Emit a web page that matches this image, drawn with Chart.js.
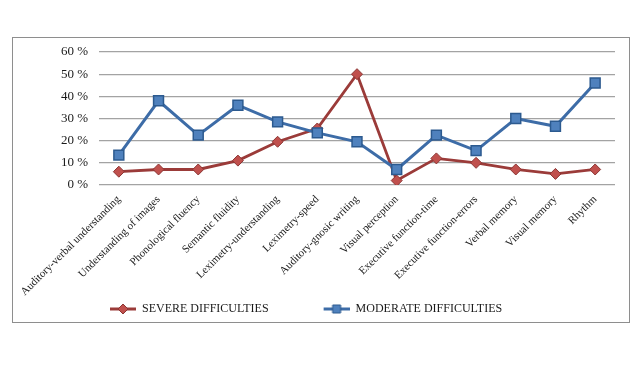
<!DOCTYPE html>
<html>
<head>
<meta charset="utf-8">
<script src="https://cdn.jsdelivr.net/npm/chart.js@4.4.0/dist/chart.umd.min.js"></script>
<style>
  body { margin: 0; background: #fff; }
  #box {
    position: absolute; left: 12px; top: 37px;
    width: 618px; height: 286px;
    box-sizing: border-box; border: 1px solid #8e8e8e;
  }
  #chart { display: block; }
</style>
</head>
<body>
<div id="box"><canvas id="chart" width="616" height="284"></canvas></div>
<script>
  // values, in %
  const categories = [
    'Auditory-verbal understanding', 'Understanding of images', 'Phonological fluency',
    'Semantic fluidity', 'Leximetry-understanding', 'Leximetry-speed',
    'Auditory-gnosic writing', 'Visual perception', 'Executive function-time',
    'Executive function-errors', 'Verbal memory', 'Visual memory', 'Rhythm'
  ];
  const severe = [6, 7, 7, 11, 19.5, 25.5, 50, 2, 12, 10, 7, 5, 7];
  const moderate = [13.5, 38, 22.5, 36, 28.5, 23.5, 19.5, 7, 22.5, 15.5, 30, 26.5, 46];
  const seriesNames = ['SEVERE DIFFICULTIES', 'MODERATE DIFFICULTIES'];
  const yTicks = [0, 10, 20, 30, 40, 50, 60];

  const FONT = "'Liberation Serif', 'Times New Roman', serif";

  // little legend picture: empty margin on the left, then line with marker
  function legendIcon(lineColor, fill, border, shape) {
    const c = document.createElement('canvas');
    c.width = 75; c.height = 12;
    const g = c.getContext('2d');
    g.strokeStyle = lineColor;
    g.lineWidth = 3;
    g.beginPath(); g.moveTo(49, 6); g.lineTo(75, 6); g.stroke();
    g.fillStyle = fill; g.strokeStyle = border; g.lineWidth = 1;
    g.beginPath();
    if (shape === 'diamond') {
      g.moveTo(62, 1); g.lineTo(67, 6); g.lineTo(62, 11); g.lineTo(57, 6); g.closePath();
    } else {
      g.rect(58, 2, 8, 8);
    }
    g.fill(); g.stroke();
    return c;
  }
  const icons = [
    legendIcon('#9b3b39', '#c0504d', '#8b3533', 'diamond'),
    legendIcon('#3d6ca7', '#4f81bd', '#2c5a8f', 'square')
  ];

  // keep the plot box where the picture has it
  function noPadding(s) {
    s.paddingLeft = 0; s.paddingRight = 0; s.paddingTop = 0; s.paddingBottom = 0;
  }

  new Chart(document.getElementById('chart'), {
    type: 'line',
    data: {
      labels: categories,
      datasets: [
        {
          label: seriesNames[0],
          data: severe,
          order: 1,
          borderColor: '#9b3b39',
          borderWidth: 2.8,
          pointStyle: 'rectRot',
          pointRadius: 5.5,
          pointBackgroundColor: '#c0504d',
          pointBorderColor: '#8b3533',
          pointBorderWidth: 1,
          tension: 0
        },
        {
          label: seriesNames[1],
          data: moderate,
          order: 0,
          borderColor: '#3d6ca7',
          borderWidth: 3,
          pointStyle: 'rect',
          pointRadius: 7,
          pointBackgroundColor: '#4f81bd',
          pointBorderColor: '#2c5a8f',
          pointBorderWidth: 1.5,
          tension: 0
        }
      ]
    },
    options: {
      responsive: false,
      animation: false,
      layout: { padding: { left: 42, right: 14, top: 14, bottom: -3 } },
      scales: {
        x: {
          offset: true,
          grid: { display: false },
          border: { display: false },
          ticks: {
            minRotation: 45, maxRotation: 45, autoSkip: false,
            padding: 0,
            color: '#1a1a1a',
            font: { family: FONT, size: 11 }
          },
          afterFit: s => { s.height = 112; noPadding(s); }
        },
        y: {
          min: yTicks[0], max: yTicks[yTicks.length - 1],
          border: { display: false },
          grid: { color: '#a3a3a3', lineWidth: 1.2, drawTicks: false },
          afterBuildTicks: s => { s.ticks = yTicks.map(v => ({ value: v })); },
          ticks: {
            padding: 11,
            color: '#1a1a1a',
            font: { family: FONT, size: 13 },
            callback: v => v + ' %'
          },
          afterFit: s => { s.width = 44; noPadding(s); }
        }
      },
      plugins: {
        tooltip: { enabled: false },
        legend: {
          position: 'bottom',
          align: 'start',
          labels: {
            usePointStyle: true,
            pointStyleWidth: 75,
            boxHeight: 12,
            padding: 6,
            color: '#1a1a1a',
            font: { family: FONT, size: 12 },
            generateLabels: chart => chart.data.datasets.map((ds, i) => ({
              text: ds.label,
              pointStyle: icons[i],
              fillStyle: 'transparent',
              strokeStyle: 'transparent',
              lineWidth: 0,
              fontColor: '#1a1a1a',
              datasetIndex: i
            }))
          }
        }
      }
    }
  });
</script>
</body>
</html>
